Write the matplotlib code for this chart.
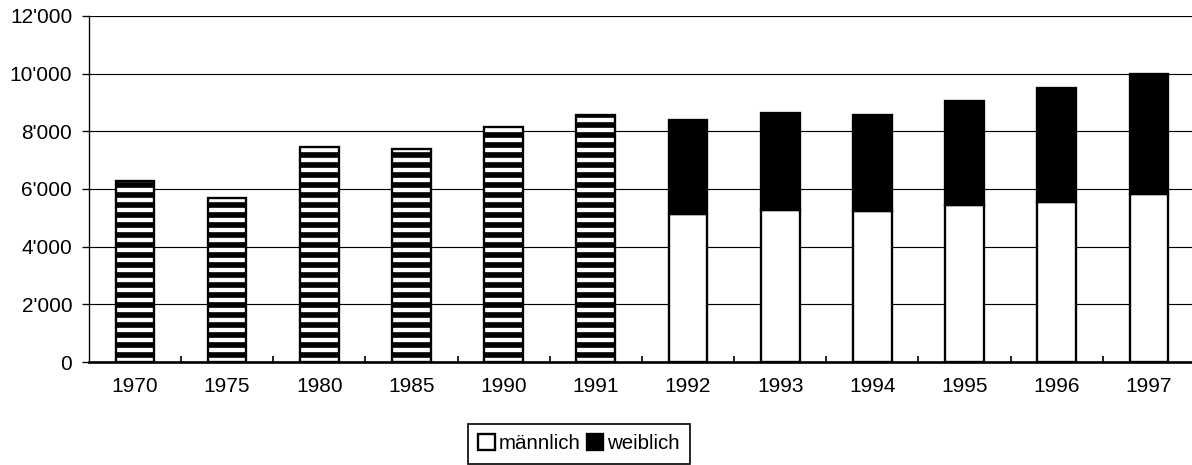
import numpy as np
import matplotlib.pyplot as plt
from matplotlib.patches import Patch
from matplotlib.ticker import FuncFormatter

plt.rcParams['font.family'] = ['Liberation Sans', 'DejaVu Sans']
plt.rcParams['hatch.linewidth'] = 3.4

# years, first six only have a total
years = ['1970', '1975', '1980', '1985', '1990', '1991',
         '1992', '1993', '1994', '1995', '1996', '1997']
totals_early = [6270, 5690, 7450, 7400, 8150, 8560]
male = [5130, 5270, 5230, 5430, 5550, 5810]
total_late = [8380, 8620, 8550, 9050, 9500, 9990]
female = [t - m for t, m in zip(total_late, male)]

dpi = 120
fig = plt.figure(figsize=(1192 / dpi, 465 / dpi), dpi=dpi)
ax = fig.add_axes([0.0745, 0.2215, 0.928, 0.7445])

x = np.arange(len(years))
w = 0.42
n_early = len(totals_early)

# hatched totals
ax.bar(x[:n_early], totals_early, width=w, facecolor='white',
       edgecolor='black', hatch='--', linewidth=1.4, zorder=3)
# stacked male / female
ax.bar(x[n_early:], male, width=w, facecolor='white',
       edgecolor='black', linewidth=1.4, zorder=3)
ax.bar(x[n_early:], female, bottom=male, width=w, facecolor='black',
       edgecolor='black', linewidth=1.4, zorder=3)

ax.set_xlim(-0.5, len(years) - 0.5)
ax.set_ylim(0, 12000)
ax.set_yticks(np.arange(0, 12001, 2000))
ax.yaxis.set_major_formatter(FuncFormatter(lambda v, p: f"{int(v):,}".replace(',', "'")))
ax.yaxis.grid(True, color='black', linewidth=0.7)
ax.set_axisbelow(True)

ax.set_xticks(x)
ax.set_xticklabels(years)
ax.set_xticks(np.arange(0.5, len(years) - 0.5, 1), minor=True)
ax.tick_params(axis='x', which='major', length=0, pad=9, labelsize=12.5)
ax.tick_params(axis='x', which='minor', direction='in', length=3.5, width=1)
ax.tick_params(axis='y', length=4, width=0.8, pad=6, labelsize=12.5)

for s in ['top', 'right']:
    ax.spines[s].set_visible(False)
ax.spines['left'].set_linewidth(0.8)
ax.spines['bottom'].set_linewidth(1.6)

handles = [Patch(facecolor='white', edgecolor='black', linewidth=1.4),
           Patch(facecolor='black', edgecolor='black', linewidth=1.4)]
leg = fig.legend(handles, ['männlich', 'weiblich'], ncol=2,
                 loc='upper center', bbox_to_anchor=(579 / 1192, 1 - 424 / 465),
                 fontsize=12.3, frameon=True, fancybox=False, framealpha=1,
                 edgecolor='black', handlelength=0.8, handleheight=0.8,
                 handletextpad=0.2, columnspacing=0.3, borderpad=0.5,
                 borderaxespad=0)
leg.get_frame().set_linewidth(1.0)

fig.savefig('out.png', dpi=dpi)
